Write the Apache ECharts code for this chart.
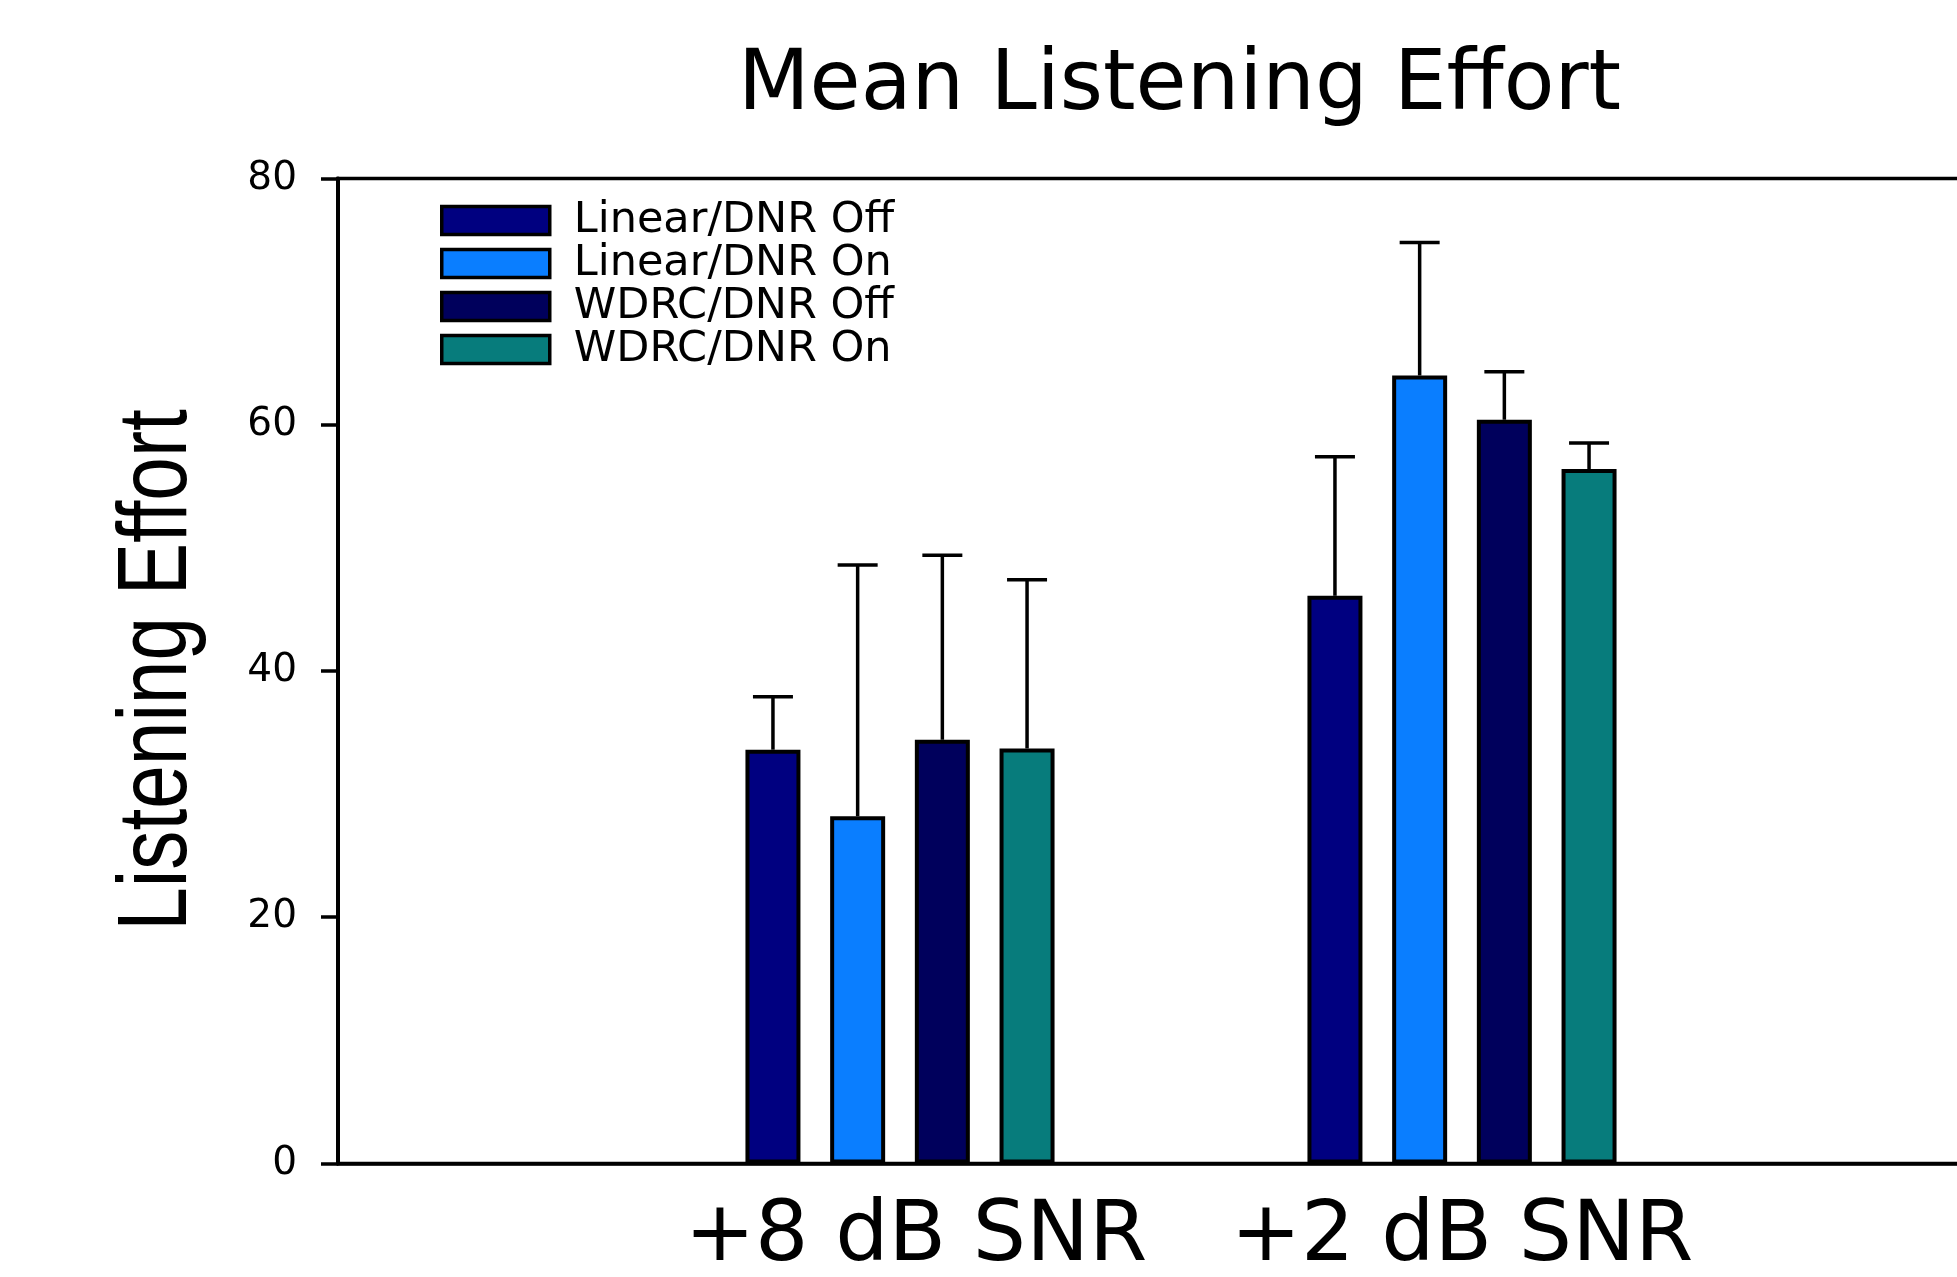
<!DOCTYPE html>
<html>
<head>
<meta charset="utf-8">
<title>Mean Listening Effort</title>
<script src="https://cdn.jsdelivr.net/npm/echarts@6/dist/echarts.min.js"></script>
<style>
  html, body { margin: 0; padding: 0; background: #ffffff; }
  #chart { width: 1957px; height: 1277px; }
</style>
</head>
<body>
<div id="chart"></div>
<script>
// SNR conditions on the x axis
const conditions = ['+8 dB SNR', '+2 dB SNR'];

// Processing conditions (one bar each per SNR)
const seriesNames = ['Linear/DNR Off', 'Linear/DNR On', 'WDRC/DNR Off', 'WDRC/DNR On'];
const seriesColors = ['#000080', '#0a7eff', '#00005c', '#077c7c'];

// Mean listening effort per condition
const linearOffMean = [33.6, 46.1];
const linearOnMean  = [28.2, 64.0];
const wdrcOffMean   = [34.4, 60.4];
const wdrcOnMean    = [33.7, 56.4];

// Standard deviation (upper error bar)
const linearOffSd = [4.3, 11.3];
const linearOnSd  = [20.4, 10.8];
const wdrcOffSd   = [15.0, 3.9];
const wdrcOnSd    = [13.7, 2.1];

// Y axis ticks
const yMin = 0, yMax = 80, yStep = 20;

const yAxisTitle = 'Listening Effort';

const means = [linearOffMean, linearOnMean, wdrcOffMean, wdrcOnMean];
const sds = [linearOffSd, linearOnSd, wdrcOffSd, wdrcOnSd];

// Empty slots on both sides keep the two groups inside a wide frame
const axisCategories = [''].concat(conditions, ['']);

const BAR_W = 55;
const BAR_GAP = '54%';
const CAP_W = 40;
const LINE_W = 3.5;
const WIDE = 'DejaVu Sans';

const barSeries = seriesNames.map((name, i) => ({
  name: name,
  type: 'bar',
  data: ['-'].concat(means[i], ['-']),
  barWidth: BAR_W,
  barGap: BAR_GAP,
  itemStyle: { color: seriesColors[i], borderColor: '#000', borderWidth: 4 },
  emphasis: { disabled: true },
  z: 2
}));

const errorSeries = seriesNames.map((name, i) => ({
  name: name + ' SD',
  type: 'custom',
  z: 3,
  silent: true,
  encode: { x: 0, y: 1 },
  data: means[i].map((m, k) => [k + 1, m, sds[i][k]]),
  renderItem: function (params, api) {
    const cat = api.value(0);
    const mean = api.value(1);
    const sd = api.value(2);
    let offset;
    if (api.barLayout) {
      const layout = api.barLayout({ barWidth: BAR_W, barGap: BAR_GAP, count: seriesNames.length });
      offset = layout[i].offsetCenter;
    } else {
      const step = BAR_W * (1 + parseFloat(BAR_GAP) / 100);
      offset = (i - (seriesNames.length - 1) / 2) * step;
    }
    const base = api.coord([cat, mean]);
    const top = api.coord([cat, mean + sd]);
    const x = base[0] + offset;
    const st = { stroke: '#000', lineWidth: LINE_W };
    return {
      type: 'group',
      children: [
        { type: 'line', shape: { x1: x, y1: base[1], x2: x, y2: top[1] }, style: st },
        { type: 'line', shape: { x1: x - CAP_W / 2, y1: top[1], x2: x + CAP_W / 2, y2: top[1] }, style: st }
      ]
    };
  }
}));

const chart = echarts.init(document.getElementById('chart'), null, { renderer: 'canvas' });

chart.setOption({
  backgroundColor: '#ffffff',
  animation: false,
  title: {
    text: 'Mean Listening Effort',
    left: 738,
    top: 46,
    padding: 0,
    textStyle: { fontFamily: WIDE, fontSize: 83, fontWeight: 'normal', color: '#000' }
  },
  legend: {
    data: seriesNames,
    orient: 'vertical',
    left: 440,
    top: 199,
    padding: 0,
    icon: 'rect',
    itemWidth: 108,
    itemHeight: 28,
    itemGap: 0,
    selectedMode: false,
    itemStyle: { borderColor: '#000', borderWidth: 3.5 },
    textStyle: { fontFamily: WIDE, fontSize: 43, color: '#000', padding: [0, 0, 0, 19] }
  },
  // Axis title, condensed along its length
  graphic: [{
    type: 'text',
    x: 159,
    y: 670,
    rotation: Math.PI / 2,
    scaleX: 0.8,
    silent: true,
    style: {
      text: yAxisTitle,
      fontFamily: 'Liberation Sans',
      fontSize: 98,
      fill: '#000',
      textAlign: 'center',
      textVerticalAlign: 'middle'
    }
  }],
  grid: {
    left: 338,
    top: 178.4,
    width: 1686,
    height: 985,
    outerBoundsMode: 'none',
    show: true,
    borderColor: '#000',
    borderWidth: 3.5,
    containLabel: false
  },
  xAxis: {
    type: 'category',
    data: axisCategories,
    boundaryGap: false,
    axisLine: { show: true, lineStyle: { color: '#000', width: 3.5 } },
    axisTick: { show: false },
    splitLine: { show: false },
    axisLabel: {
      interval: 0,
      margin: 33,
      color: '#000',
      fontFamily: WIDE,
      fontSize: 84,
      formatter: function (v, idx) { return idx === 1 ? '{s|' + v + '}' : v; },
      rich: { s: { fontFamily: WIDE, fontSize: 84, color: '#000', padding: [0, 0, 0, 32] } }
    }
  },
  yAxis: {
    type: 'value',
    min: yMin,
    max: yMax,
    interval: yStep,
    axisLine: { show: true, lineStyle: { color: '#000', width: 4 } },
    axisTick: { show: true, length: 17, lineStyle: { color: '#000', width: 3.5 } },
    splitLine: { show: false },
    axisLabel: { margin: 41, color: '#000', fontFamily: WIDE, fontSize: 39 }
  },
  series: barSeries.concat(errorSeries)
});
</script>
</body>
</html>
